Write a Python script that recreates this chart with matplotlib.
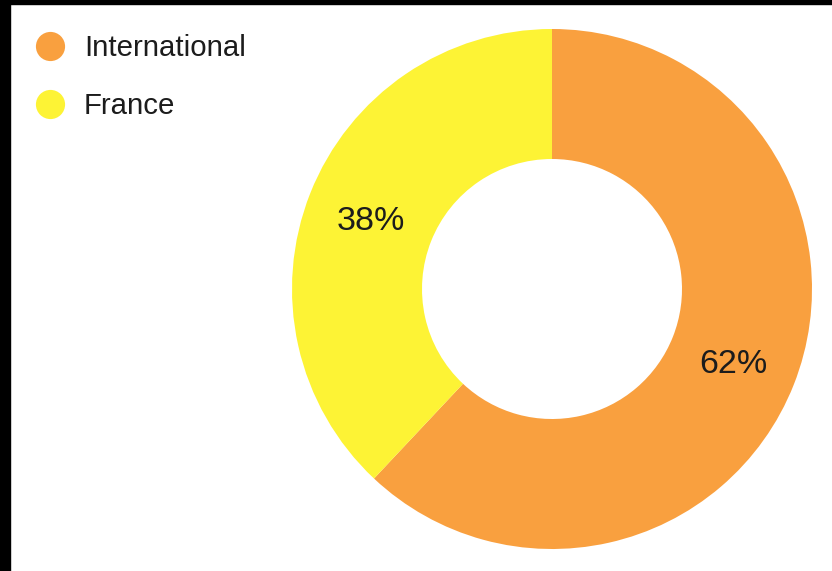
#!/usr/bin/env python3

import matplotlib
matplotlib.use('Agg')
from matplotlib import pyplot as plt
from matplotlib.lines import Line2D
from matplotlib.patches import Rectangle

# data
labels = ['International', 'France']
shares = [62, 38]
colors = ['#F9A03F', '#FDF335']

W, H = 832, 571
TXT = '#1c1c1c'
plt.rcParams['font.family'] = ['Liberation Sans', 'DejaVu Sans']

fig = plt.figure(figsize=(W / 100., H / 100.), dpi=100)
fig.patch.set_facecolor('white')

# donut: centre (552, 289) px, outer radius 260 px
cx, cy, r = 552, 289, 260
ax = fig.add_axes([(cx - r) / W, (H - cy - r) / H, 2 * r / W, 2 * r / H])
wedges, texts, autotexts = ax.pie(shares, colors=colors, startangle=90,
                                  counterclock=False, radius=1.0,
                                  wedgeprops={'width': 0.5, 'linewidth': 0},
                                  autopct='%d%%', pctdistance=0.75,
                                  textprops={'fontsize': 24.5, 'color': TXT})
# labels sit a few px lower in the reference
for t in autotexts:
    x, y = t.get_position()
    t.set_position((x, y - 4. / r))
ax.set_xlim(-1, 1)
ax.set_ylim(-1, 1)
ax.set_aspect('equal')
ax.axis('off')

# legend drawn by hand
for i, (lab, col) in enumerate(zip(labels, colors)):
    y = 1 - (46 + 58 * i) / H
    fig.add_artist(Line2D([50 / W], [y], marker='o', markersize=21,
                          color=col, markeredgewidth=0,
                          transform=fig.transFigure))
    fig.text(84 / W, y - 1.5 / H, lab, fontsize=21.2, color=TXT,
             va='center', ha='left')

# black frame on left and top edges
fig.add_artist(Rectangle((0, 0), 10 / W, 1, color='black',
                         transform=fig.transFigure))
fig.add_artist(Rectangle((0, 1 - 4 / H), 1, 4 / H, color='black',
                         transform=fig.transFigure))

fig.savefig('out.png', dpi=100)
